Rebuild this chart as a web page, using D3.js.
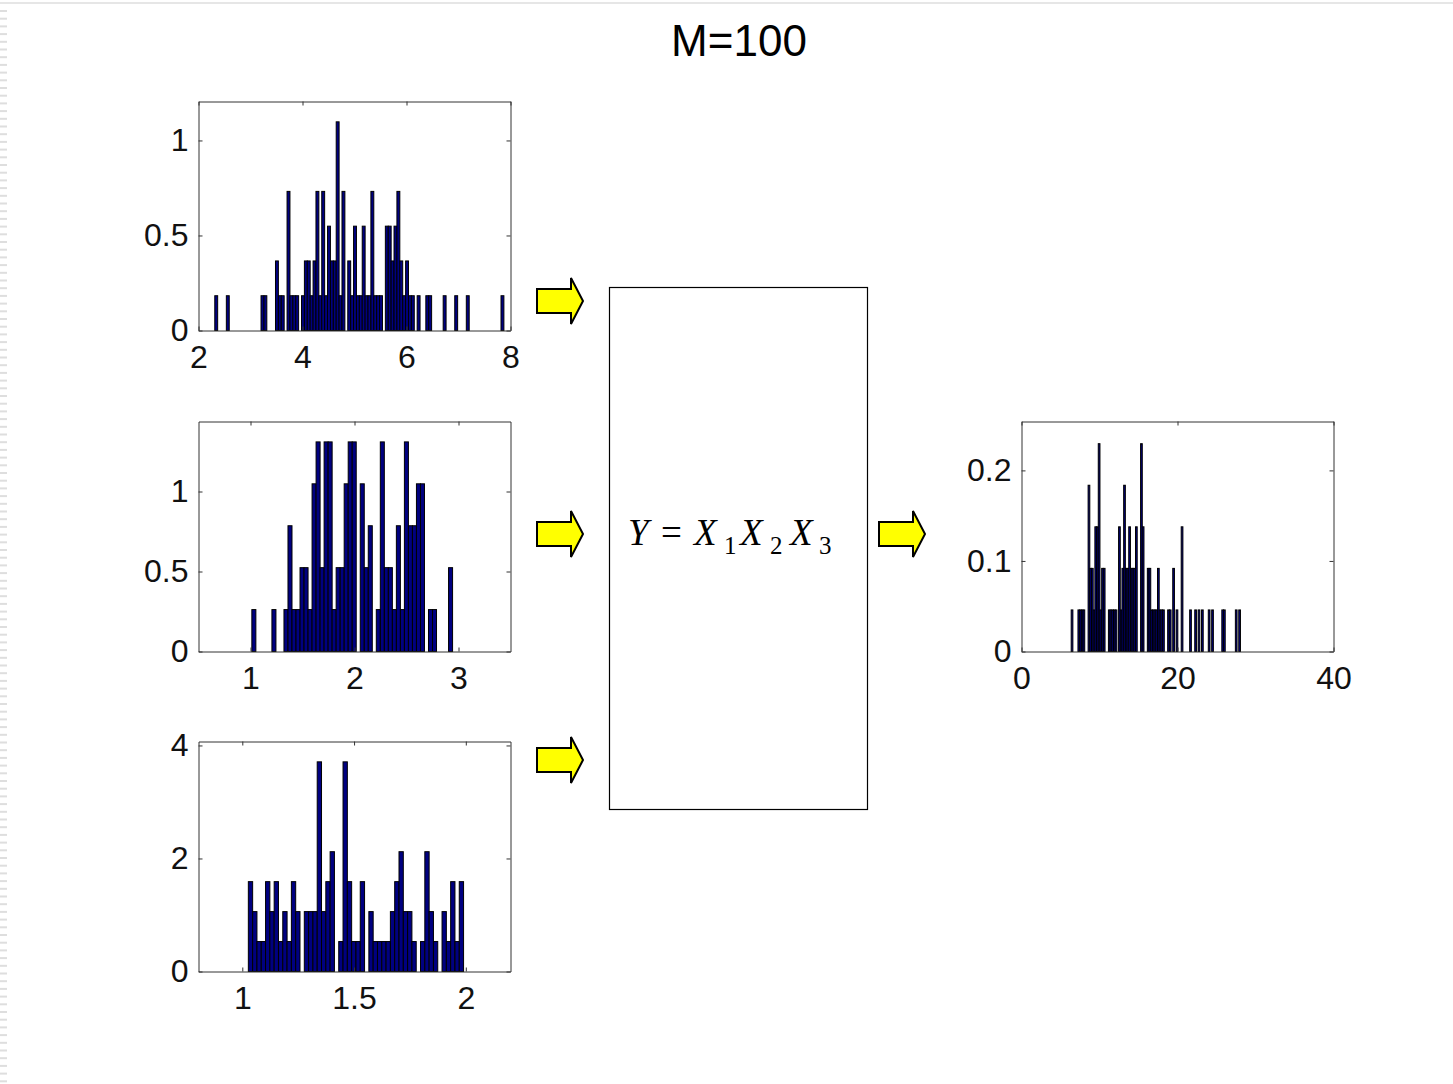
<!DOCTYPE html>
<html><head><meta charset="utf-8">
<script src="https://cdn.jsdelivr.net/npm/d3@7"></script>
<style>body{margin:0;background:#fff;}svg{display:block}</style>
</head><body>
<svg id="chart" width="1453" height="1084"></svg>
<script>
// ---------- data ----------
const titleText = "M=100";

// X1 histogram (100 bins)
const x1BinStart = 2.313, x1BinWidth = 0.0556, x1CountHeight = 0.183;
const x1Counts = [
  1,0,0,0,1,0,0,0,0,0, 0,0,0,0,0,0,1,1,0,0,
  0,2,1,1,0,4,1,1,1,0, 1,2,2,1,2,4,1,4,1,3,
  2,2,6,1,4,0,2,1,3,1, 1,3,1,1,4,1,1,1,0,3,
  3,2,3,4,2,1,2,1,1,0, 1,0,0,1,1,0,0,0,0,1,
  0,0,0,1,0,0,0,1,0,0, 0,0,0,0,0,0,0,0,0,1];
const x1XTicks = [2,4,6,8], x1YTicks = [0,0.5,1];
const x1XDomain = [2,8], x1YDomain = [0,1.205];

// X2 histogram (50 bins)
const x2BinStart = 1.013, x2BinWidth = 0.0386, x2CountHeight = 0.262;
const x2Counts = [
  1,0,0,0,0,1,0,0,1,3, 1,1,2,2,1,4,5,2,5,5,
  1,2,2,4,5,5,0,4,2,3, 0,1,5,2,2,1,3,1,5,3,
  3,4,4,0,1,1,0,0,0,2];
const x2XTicks = [1,2,3], x2YTicks = [0,0.5,1];
const x2XDomain = [0.5,3.5], x2YDomain = [0,1.4375];

// X3 histogram (50 bins)
const x3BinStart = 1.027, x3BinWidth = 0.01926, x3CountHeight = 0.53;
const x3Counts = [
  3,2,1,1,3,2,3,1,2,1, 3,2,0,2,2,2,7,2,3,4,
  0,1,7,3,1,1,3,0,2,1, 1,1,1,2,3,4,2,2,1,0,
  1,4,2,1,0,2,1,3,1,3];
const x3XTicks = [1,1.5,2], x3YTicks = [0,2,4];
const x3XDomain = [0.804,2.2], x3YDomain = [0,4.07];

// Y histogram (100 bins)
const yBinStart = 6.37, yBinWidth = 0.217, yCountHeight = 0.0459;
const yCounts = [
  1,0,0,0,1,1,1,1,0,0, 4,2,2,1,3,3,5,1,2,2,
  0,0,1,1,1,1,1,0,3,1, 2,4,2,2,3,2,2,2,3,0,
  0,5,3,0,0,2,2,1,1,1, 1,2,1,1,1,0,0,1,1,0,
  2,0,1,0,0,3,0,0,0,0, 1,0,0,1,0,1,0,1,0,0,
  0,1,0,1,0,0,0,0,0,1, 1,0,0,0,0,0,0,1,0,1];
const yXTicks = [0,20,40], yYTicks = [0,0.1,0.2];
const yXDomain = [0,40], yYDomain = [0,0.254];

// ---------- drawing ----------
const svg = d3.select("#chart");
const FONT = "'Liberation Sans', Arial, Helvetica, sans-serif";

// slide decoration: top line and dashed left edge
svg.append("rect").attr("x",0).attr("y",2).attr("width",1453).attr("height",2).attr("fill","#e6e6e6");
svg.append("g").selectAll("rect").data(d3.range(10, 1084, 7.7)).join("rect")
  .attr("x",0).attr("y",d=>d).attr("width",7).attr("height",2).attr("fill","#dedede");

// title
svg.append("text").attr("x",739).attr("y",56).attr("text-anchor","middle")
  .attr("font-family",FONT).attr("font-size",44)
  .attr("fill","#000").text(titleText);

function drawPanel(p){
  const x = d3.scaleLinear().domain(p.xDomain).range([p.left,p.right]);
  const y = d3.scaleLinear().domain(p.yDomain).range([p.bottom,p.top]);
  const g = svg.append("g");
  const bars = p.counts.map((c,i)=>({i,c})).filter(d=>d.c>0);
  g.selectAll("rect.bar").data(bars).join("rect").attr("class","bar")
    .attr("x",d=>x(p.start+d.i*p.width))
    .attr("width",d=>x(p.start+(d.i+1)*p.width)-x(p.start+d.i*p.width))
    .attr("y",d=>y(d.c*p.unit))
    .attr("height",d=>y(0)-y(d.c*p.unit))
    .attr("fill","#000080").attr("stroke","#000").attr("stroke-width",1);

  const axisStyle = sel => {
    sel.selectAll("path.domain").attr("stroke","#333").attr("stroke-width",1);
    sel.selectAll(".tick line").attr("stroke","#333");
    sel.selectAll("text").attr("font-family",FONT).attr("font-size",32).attr("fill","#111");
  };
  g.append("g").attr("transform",`translate(0,${p.bottom})`)
    .call(d3.axisBottom(x).tickValues(p.xTicks).tickSizeInner(-4).tickSizeOuter(0).tickPadding(15).tickFormat(d3.format("")))
    .call(axisStyle);
  g.append("g").attr("transform",`translate(0,${p.top})`)
    .call(d3.axisTop(x).tickValues(p.xTicks).tickSizeInner(-4).tickSizeOuter(0).tickFormat(""))
    .call(axisStyle);
  g.append("g").attr("transform",`translate(${p.left},0)`)
    .call(d3.axisLeft(y).tickValues(p.yTicks).tickSizeInner(-4).tickSizeOuter(0).tickPadding(10).tickFormat(d3.format("")))
    .call(axisStyle);
  g.append("g").attr("transform",`translate(${p.right},0)`)
    .call(d3.axisRight(y).tickValues(p.yTicks).tickSizeInner(-4).tickSizeOuter(0).tickFormat(""))
    .call(axisStyle);
  g.selectAll(".domain").attr("fill","none");
}

drawPanel({counts:x1Counts,start:x1BinStart,width:x1BinWidth,unit:x1CountHeight,
  xDomain:x1XDomain,yDomain:x1YDomain,xTicks:x1XTicks,yTicks:x1YTicks,
  left:198.5,right:510.5,top:101.5,bottom:330.5});
drawPanel({counts:x2Counts,start:x2BinStart,width:x2BinWidth,unit:x2CountHeight,
  xDomain:x2XDomain,yDomain:x2YDomain,xTicks:x2XTicks,yTicks:x2YTicks,
  left:198.5,right:510.5,top:421.5,bottom:651.5});
drawPanel({counts:x3Counts,start:x3BinStart,width:x3BinWidth,unit:x3CountHeight,
  xDomain:x3XDomain,yDomain:x3YDomain,xTicks:x3XTicks,yTicks:x3YTicks,
  left:198.5,right:510.5,top:741.5,bottom:971.5});
drawPanel({counts:yCounts,start:yBinStart,width:yBinWidth,unit:yCountHeight,
  xDomain:yXDomain,yDomain:yYDomain,xTicks:yXTicks,yTicks:yYTicks,
  left:1021.5,right:1333.5,top:421.5,bottom:651.5});

// function box
svg.append("rect").attr("x",609.5).attr("y",287.5).attr("width",258).attr("height",522)
  .attr("fill","none").attr("stroke","#000").attr("stroke-width",1.2);

// formula Y = X1 X2 X3
const SERIF = "'Liberation Serif','Times New Roman',Times,serif";
const formulaParts = [
  {t:"Y",x:628,sub:false,it:true},{t:"=",x:661,sub:false,it:false},
  {t:"X",x:694,sub:false,it:true},{t:"1",x:724,sub:true,it:false},
  {t:"X",x:740,sub:false,it:true},{t:"2",x:770,sub:true,it:false},
  {t:"X",x:790,sub:false,it:true},{t:"3",x:819,sub:true,it:false}];
svg.append("g").selectAll("text").data(formulaParts).join("text")
  .attr("x",d=>d.x).attr("y",d=>d.sub?554:545)
  .attr("font-family",SERIF).attr("font-size",d=>d.sub?25:37)
  .attr("font-style",d=>d.it?"italic":"normal").attr("fill","#000")
  .text(d=>d.t);

// arrows
function arrowPath(x0,cy){
  return `M${x0},${cy-12}L${x0+34},${cy-12}L${x0+34},${cy-23}L${x0+46},${cy}L${x0+34},${cy+23}L${x0+34},${cy+12}L${x0},${cy+12}Z`;
}
const arrows = [[537,301],[537,534],[537,760],[879,534]];
svg.append("g").selectAll("path").data(arrows).join("path")
  .attr("d",d=>arrowPath(d[0],d[1]))
  .attr("fill","#ffff00").attr("stroke","#000").attr("stroke-width",2).attr("stroke-linejoin","miter");
</script>
</body></html>
